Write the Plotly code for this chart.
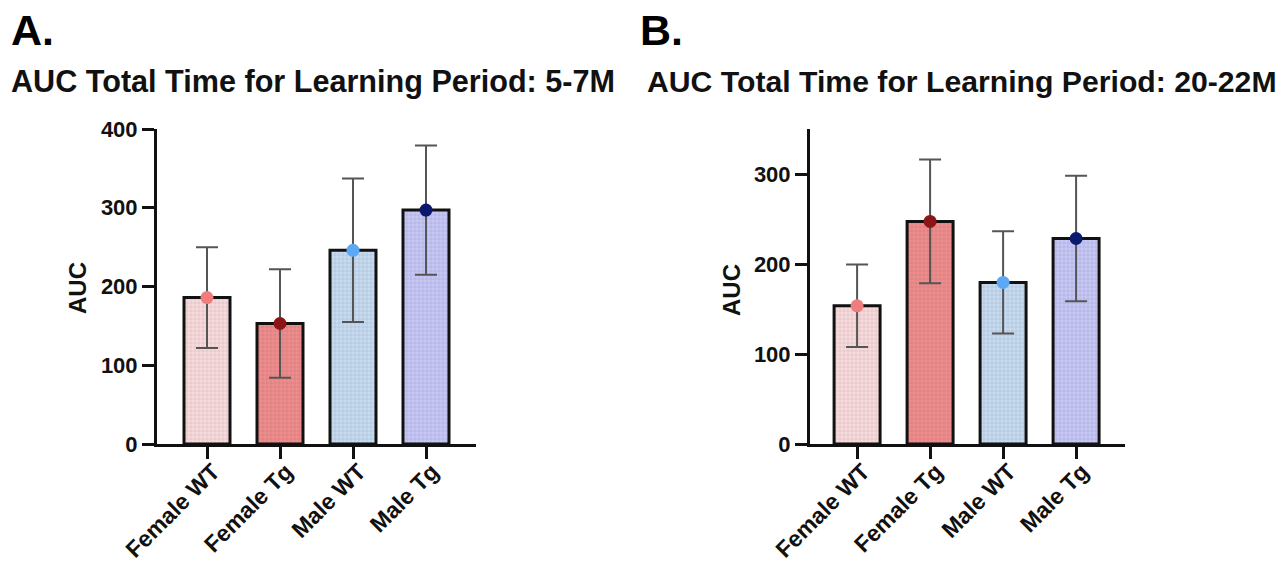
import plotly.graph_objects as go

categories = ["Female WT", "Female Tg", "Male WT", "Male Tg"]
auc_a = [186, 153, 246, 297]
err_a = [64, 69, 91, 82]
auc_b = [154, 248, 180, 229]
err_b = [46, 69, 57, 70]

fill_colors = ["#f9dadc", "#ef8b8c", "#c6dbf1", "#c6c6f7"]
pattern_colors = ["#f0c4c7", "#e27a7c", "#b2c9e6", "#9f9ff0"]
dot_colors = ["#f07d7e", "#8e1515", "#5ba8f4", "#0b1a6e"]

# the page body adds an 8px margin; the figure is sized to fit the 1287x569 window
OFF = 8
W, H = 1287 - OFF, 569 - OFF
FONT = "Liberation Sans, Arial, sans-serif"

fig = go.Figure()

def px_x(v):
    return (v - OFF) / W

def px_y(v):
    return 1 - (v - OFF) / H

panels = [
    dict(vals=auc_a, errs=err_a, xa="x", ya="y", xdom=[157, 476], ytop=129, yrange=[0, 400],
         xrange=[-0.685, 3.685], ticks=[0, 100, 200, 300, 400]),
    dict(vals=auc_b, errs=err_b, xa="x2", ya="y2", xdom=[810, 1125], ytop=129, yrange=[0, 351],
         xrange=[-0.645, 3.67], ticks=[0, 100, 200, 300]),
]

for p in panels:
    fig.add_trace(go.Bar(
        x=categories, y=p["vals"], xaxis=p["xa"], yaxis=p["ya"], width=0.63,
        marker=dict(color=fill_colors, line=dict(color="#111111", width=3),
                    pattern=dict(shape="+", size=4, solidity=0.12, fgcolor=pattern_colors,
                                 fgopacity=0.45)),
        error_y=dict(type="data", array=p["errs"], visible=True, color="#555555",
                     thickness=2, width=11),
        showlegend=False, hoverinfo="skip",
    ))
    fig.add_trace(go.Scatter(
        x=categories, y=p["vals"], xaxis=p["xa"], yaxis=p["ya"], mode="markers",
        marker=dict(color=dot_colors, size=13), showlegend=False, hoverinfo="skip",
    ))

axis_common = dict(showgrid=False, zeroline=False, showline=True, linecolor="#111111",
                   linewidth=3, ticks="outside", tickcolor="#111111", tickwidth=3,
                   ticklen=12, automargin=False)

for i, p in enumerate(panels):
    suffix = "" if i == 0 else "2"
    fig.update_layout(**{
        "xaxis" + suffix: dict(axis_common, domain=[px_x(p["xdom"][0]), px_x(p["xdom"][1])],
                               range=p["xrange"], anchor="y" + suffix, tickangle=-45,
                               ticklabelstandoff=-10, ticklabelshift=6,
                               tickfont=dict(family=FONT, size=23, color="#111111",
                                             weight="bold"),
                               type="category"),
        "yaxis" + suffix: dict(axis_common, domain=[px_y(444), px_y(p["ytop"])],
                               range=p["yrange"], anchor="x" + suffix, tickvals=p["ticks"],
                               tickfont=dict(family=FONT, size=22, color="#111111",
                                             weight="bold")),
    })

annotations = [
    dict(text="<b>A.</b>", x=px_x(9), y=px_y(30), xanchor="left", yanchor="middle",
         font=dict(family=FONT, size=43, color="#000000")),
    dict(text="<b>AUC Total Time for Learning Period: 5-7M</b>", x=px_x(9), y=px_y(82),
         xanchor="left", yanchor="middle", font=dict(family=FONT, size=30.6, color="#111111")),
    dict(text="<b>B.</b>", x=px_x(638), y=px_y(30), xanchor="left", yanchor="middle",
         font=dict(family=FONT, size=43, color="#000000")),
    dict(text="<b>AUC Total Time for Learning Period: 20-22M</b>", x=px_x(645), y=px_y(82),
         xanchor="left", yanchor="middle", font=dict(family=FONT, size=30.2, color="#111111")),
    dict(text="<b>AUC</b>", x=px_x(78), y=px_y(288), textangle=-90, xanchor="center",
         yanchor="middle", font=dict(family=FONT, size=24, color="#111111")),
    dict(text="<b>AUC</b>", x=px_x(731), y=px_y(290), textangle=-90, xanchor="center",
         yanchor="middle", font=dict(family=FONT, size=24, color="#111111")),
]
for a in annotations:
    a.update(xref="paper", yref="paper", showarrow=False)

fig.update_layout(
    width=W, height=H, margin=dict(l=0, r=0, t=0, b=0, autoexpand=False),
    paper_bgcolor="white", plot_bgcolor="white", annotations=annotations,
    font=dict(family=FONT, color="#111111"), bargap=0.37,
)

fig.write_html("out.html")
